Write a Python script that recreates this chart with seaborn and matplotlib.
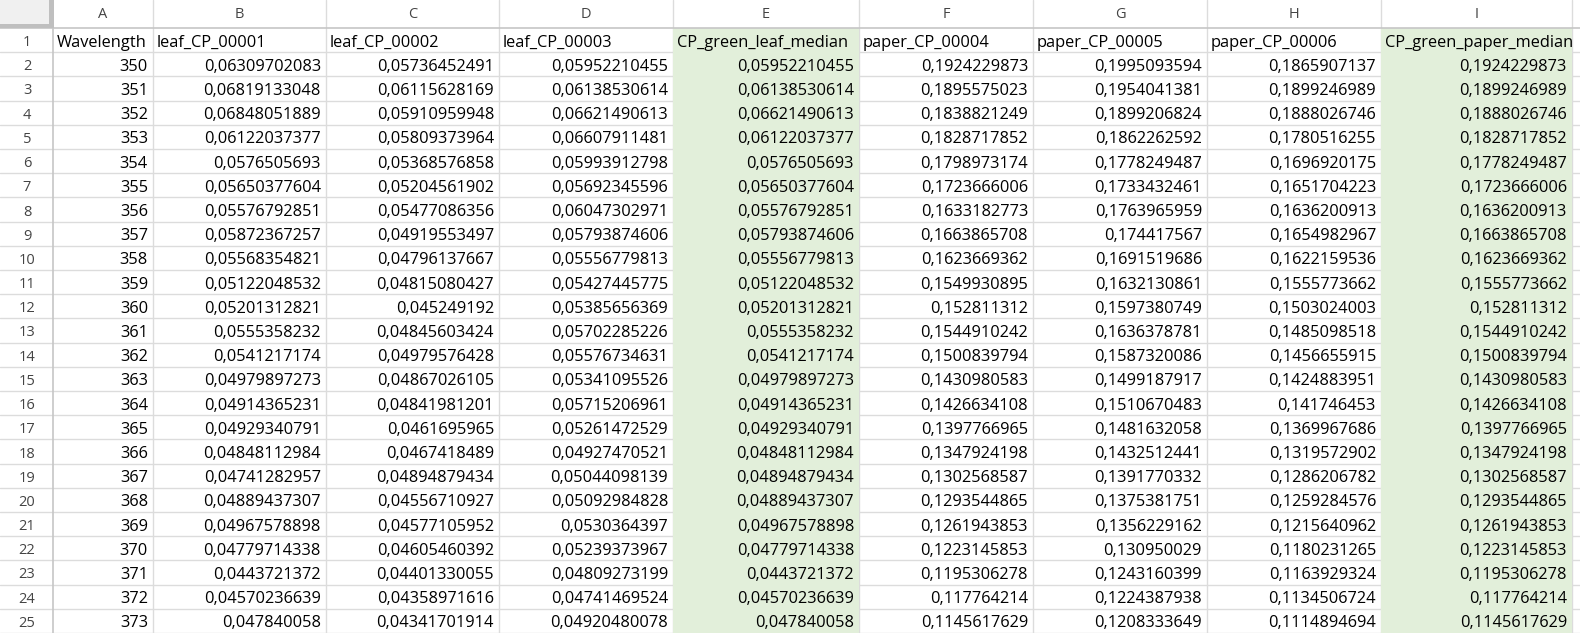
import matplotlib
matplotlib.use("Agg")
import matplotlib.pyplot as plt
import seaborn as sns
from matplotlib.patches import Rectangle

# spreadsheet content
col_letters = ["A", "B", "C", "D", "E", "F", "G", "H", "I"]
headers = ["Wavelength", "leaf_CP_00001", "leaf_CP_00002", "leaf_CP_00003",
           "CP_green_leaf_median", "paper_CP_00004", "paper_CP_00005",
           "paper_CP_00006", "CP_green_paper_median"]

wavelength = [350, 351, 352, 353, 354, 355, 356, 357, 358, 359, 360, 361,
              362, 363, 364, 365, 366, 367, 368, 369, 370, 371, 372, 373]

leaf_1 = [0.06309702083, 0.06819133048, 0.06848051889, 0.06122037377, 0.0576505693,
          0.05650377604, 0.05576792851, 0.05872367257, 0.05568354821, 0.05122048532,
          0.05201312821, 0.0555358232, 0.0541217174, 0.04979897273, 0.04914365231,
          0.04929340791, 0.04848112984, 0.04741282957, 0.04889437307, 0.04967578898,
          0.04779714338, 0.0443721372, 0.04570236639, 0.047840058]
leaf_2 = [0.05736452491, 0.06115628169, 0.05910959948, 0.05809373964, 0.05368576858,
          0.05204561902, 0.05477086356, 0.04919553497, 0.04796137667, 0.04815080427,
          0.045249192, 0.04845603424, 0.04979576428, 0.04867026105, 0.04841981201,
          0.0461695965, 0.0467418489, 0.04894879434, 0.04556710927, 0.04577105952,
          0.04605460392, 0.04401330055, 0.04358971616, 0.04341701914]
leaf_3 = [0.05952210455, 0.06138530614, 0.06621490613, 0.06607911481, 0.05993912798,
          0.05692345596, 0.06047302971, 0.05793874606, 0.05556779813, 0.05427445775,
          0.05385656369, 0.05702285226, 0.05576734631, 0.05341095526, 0.05715206961,
          0.05261472529, 0.04927470521, 0.05044098139, 0.05092984828, 0.0530364397,
          0.05239373967, 0.04809273199, 0.04741469524, 0.04920480078]
leaf_median = [0.05952210455, 0.06138530614, 0.06621490613, 0.06122037377, 0.0576505693,
               0.05650377604, 0.05576792851, 0.05793874606, 0.05556779813, 0.05122048532,
               0.05201312821, 0.0555358232, 0.0541217174, 0.04979897273, 0.04914365231,
               0.04929340791, 0.04848112984, 0.04894879434, 0.04889437307, 0.04967578898,
               0.04779714338, 0.0443721372, 0.04570236639, 0.047840058]
paper_4 = [0.1924229873, 0.1895575023, 0.1838821249, 0.1828717852, 0.1798973174,
           0.1723666006, 0.1633182773, 0.1663865708, 0.1623669362, 0.1549930895,
           0.152811312, 0.1544910242, 0.1500839794, 0.1430980583, 0.1426634108,
           0.1397766965, 0.1347924198, 0.1302568587, 0.1293544865, 0.1261943853,
           0.1223145853, 0.1195306278, 0.117764214, 0.1145617629]
paper_5 = [0.1995093594, 0.1954041381, 0.1899206824, 0.1862262592, 0.1778249487,
           0.1733432461, 0.1763965959, 0.174417567, 0.1691519686, 0.1632130861,
           0.1597380749, 0.1636378781, 0.1587320086, 0.1499187917, 0.1510670483,
           0.1481632058, 0.1432512441, 0.1391770332, 0.1375381751, 0.1356229162,
           0.130950029, 0.1243160399, 0.1224387938, 0.1208333649]
paper_6 = [0.1865907137, 0.1899246989, 0.1888026746, 0.1780516255, 0.1696920175,
           0.1651704223, 0.1636200913, 0.1654982967, 0.1622159536, 0.1555773662,
           0.1503024003, 0.1485098518, 0.1456655915, 0.1424883951, 0.141746453,
           0.1369967686, 0.1319572902, 0.1286206782, 0.1259284576, 0.1215640962,
           0.1180231265, 0.1163929324, 0.1134506724, 0.1114894694]
paper_median = [0.1924229873, 0.1899246989, 0.1888026746, 0.1828717852, 0.1778249487,
                0.1723666006, 0.1636200913, 0.1663865708, 0.1623669362, 0.1555773662,
                0.152811312, 0.1544910242, 0.1500839794, 0.1430980583, 0.1426634108,
                0.1397766965, 0.1347924198, 0.1302568587, 0.1293544865, 0.1261943853,
                0.1223145853, 0.1195306278, 0.117764214, 0.1145617629]

columns = [wavelength, leaf_1, leaf_2, leaf_3, leaf_median,
           paper_4, paper_5, paper_6, paper_median]
green_cols = [4, 8]

sns.set_theme(style="white")
plt.rcParams['font.family'] = ['Open Sans', 'DejaVu Sans']

# layout in pixels
W, H = 1580, 633
col_edges = [53, 153, 326, 499, 673, 859, 1033, 1207, 1381, 1572]
header_h = 28
row_h = 24.2
n_rows = 1 + len(wavelength)
grid_c = '#dcdcdc'
head_c = '#c6c6c6'
fs = 11.8
dy = 2.5  # text sits a bit low in each cell

fig = plt.figure(figsize=(W / 100, H / 100), dpi=100)
ax = fig.add_axes([0, 0, 1, 1])
ax.set_xlim(0, W)
ax.set_ylim(H, 0)
ax.axis('off')

# cell grid
for k in range(1, n_rows + 1):
    y = header_h + k * row_h
    ax.plot([0, W], [y, y], color=grid_c, lw=1, zorder=0.5)
for x in col_edges[1:]:
    ax.plot([x, x], [0, H], color=grid_c, lw=1, zorder=0.5)

# green median columns
for c in green_cols:
    ax.add_patch(Rectangle((col_edges[c], header_h), col_edges[c + 1] - col_edges[c],
                           H - header_h, facecolor='#e2efda', lw=0, zorder=1))

# headers
ax.plot([0, W], [header_h, header_h], color=head_c, lw=1.2, zorder=2)
ax.plot([col_edges[0], col_edges[0]], [0, H], color=head_c, lw=1.2, zorder=2)
ax.add_patch(Rectangle((0, 0), 49, 23.5, facecolor='#f0f0f0', lw=0, zorder=3))
ax.add_patch(Rectangle((49, 0), 5, 28, facecolor='#bfbfbf', lw=0, zorder=3))
ax.add_patch(Rectangle((0, 23.5), 54, 4.5, facecolor='#bfbfbf', lw=0, zorder=3))

for i, letter in enumerate(col_letters):
    xc = (col_edges[i] + col_edges[i + 1]) / 2
    ax.text(xc, header_h / 2 + 1, letter, ha='center', va='center',
            fontsize=10.5, color='#444444', zorder=4)

for r in range(n_rows):
    yc = header_h + (r + 0.5) * row_h + dy
    ax.text(27, yc, str(r + 1), ha='center', va='center',
            fontsize=10.5, color='#444444', zorder=4)

# cell text
for c, values in enumerate(columns):
    left, right = col_edges[c], col_edges[c + 1]
    yc = header_h + 0.5 * row_h + dy
    ax.text(left + 4, yc, headers[c], ha='left', va='center',
            fontsize=fs, color='black', zorder=4)
    for r, v in enumerate(values):
        yc = header_h + (r + 1.5) * row_h + dy
        label = repr(v).replace('.', ',')
        ax.text(right - 5, yc, label, ha='right', va='center',
                fontsize=fs, color='black', zorder=4)

fig.savefig('out.png', dpi=100)
